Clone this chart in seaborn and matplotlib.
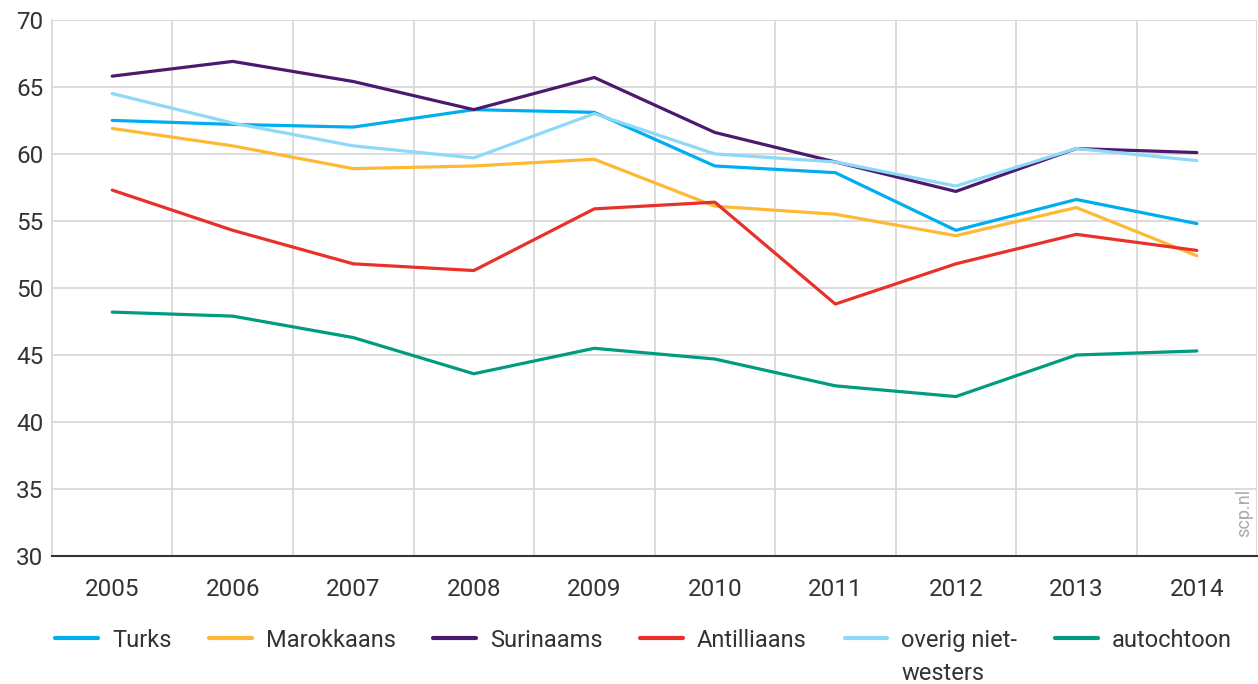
import numpy as np
import pandas as pd
import matplotlib.pyplot as plt
import seaborn as sns

# Data
years = [2005, 2006, 2007, 2008, 2009, 2010, 2011, 2012, 2013, 2014]
turks = [62.5, 62.2, 62.0, 63.3, 63.1, 59.1, 58.6, 54.3, 56.6, 54.8]
marokkaans = [61.9, 60.6, 58.9, 59.1, 59.6, 56.1, 55.5, 53.9, 56.0, 52.4]
surinaams = [65.8, 66.9, 65.4, 63.3, 65.7, 61.6, 59.4, 57.2, 60.4, 60.1]
antilliaans = [57.3, 54.3, 51.8, 51.3, 55.9, 56.4, 48.8, 51.8, 54.0, 52.8]
overig = [64.5, 62.3, 60.6, 59.7, 63.0, 60.0, 59.4, 57.6, 60.4, 59.5]
autochtoon = [48.2, 47.9, 46.3, 43.6, 45.5, 44.7, 42.7, 41.9, 45.0, 45.3]

series_names = ["Turks", "Marokkaans", "Surinaams", "Antilliaans",
                "overig niet-westers", "autochtoon"]
series_values = [turks, marokkaans, surinaams, antilliaans, overig, autochtoon]
colors = ["#00aeef", "#fdb933", "#4b1a6e", "#e8312a", "#8ed8f8", "#009b80"]

# Long-form table for seaborn
data = pd.DataFrame({
    "Jaar": np.tile(years, len(series_names)),
    "Waarde": np.concatenate(series_values),
    "Groep": np.repeat(series_names, len(years)),
})

sns.set_theme(style="white")
plt.rcParams['font.family'] = ['Roboto', 'DejaVu Sans']
text_color = "#333333"

fig = plt.figure(figsize=(12.58, 6.84), dpi=100)
ax = fig.add_axes([0.0413, 0.187, 0.958, 0.784])

sns.lineplot(
    data=data, x="Jaar", y="Waarde", hue="Groep",
    palette=dict(zip(series_names, colors)),
    hue_order=series_names, linewidth=2.3, ax=ax, legend=False
)

# Axes limits and ticks
ax.set_xlim(2004.5, 2014.5)
ax.set_ylim(30, 70)
ax.set_xticks(years)
ax.set_xticklabels([str(y) for y in years])
ax.set_xticks(np.arange(2005.5, 2015, 1.0), minor=True)
ax.set_yticks(np.arange(30, 71, 5))
ax.set_xlabel("")
ax.set_ylabel("")

# Grid: vertical lines between years, horizontal at every 5
ax.grid(False)
ax.grid(which="minor", axis="x", color="#d9d9d9", linewidth=1.3)
ax.grid(which="major", axis="y", color="#d9d9d9", linewidth=1.3)
ax.set_axisbelow(True)

for side in ["top", "right"]:
    ax.spines[side].set_visible(False)
ax.spines["left"].set_color("#d9d9d9")
ax.spines["left"].set_linewidth(1.3)
ax.spines["bottom"].set_color(text_color)
ax.spines["bottom"].set_linewidth(1.5)

ax.tick_params(axis="x", which="major", direction="out", length=7, width=1.5,
               color=text_color, labelsize=17.5, labelcolor=text_color, pad=9)
ax.tick_params(axis="x", which="minor", length=0)
ax.tick_params(axis="y", length=0, labelsize=17.5, labelcolor=text_color, pad=6)

# Watermark
ax.text(0.989, 0.035, "scp.nl", transform=ax.transAxes, rotation=90,
        ha="center", va="bottom", fontsize=13, color="#aaaaaa")

# Legend at the bottom; the long label wraps onto a second line below it
legend_labels = ["Turks", "Marokkaans", "Surinaams", "Antilliaans",
                 "overig niet-", "autochtoon"]
handles = [plt.Line2D([0], [0], color=c, linewidth=3) for c in colors]
leg = fig.legend(handles, legend_labels, loc="center left", ncol=6,
                 bbox_to_anchor=(0.044, 0.064), frameon=False, fontsize=17,
                 handlelength=1.8, handletextpad=0.6, columnspacing=1.6,
                 borderaxespad=0, borderpad=0)
for t in leg.get_texts():
    t.set_color(text_color)

fig.canvas.draw()
bb = leg.get_texts()[4].get_window_extent()
W, H = fig.bbox.width, fig.bbox.height
fig.text(bb.x0 / W, (bb.y0 + 5 - 33) / H, "westers", ha="left",
         va="baseline", fontsize=17, color=text_color)

fig.savefig("out.png", dpi=100)
